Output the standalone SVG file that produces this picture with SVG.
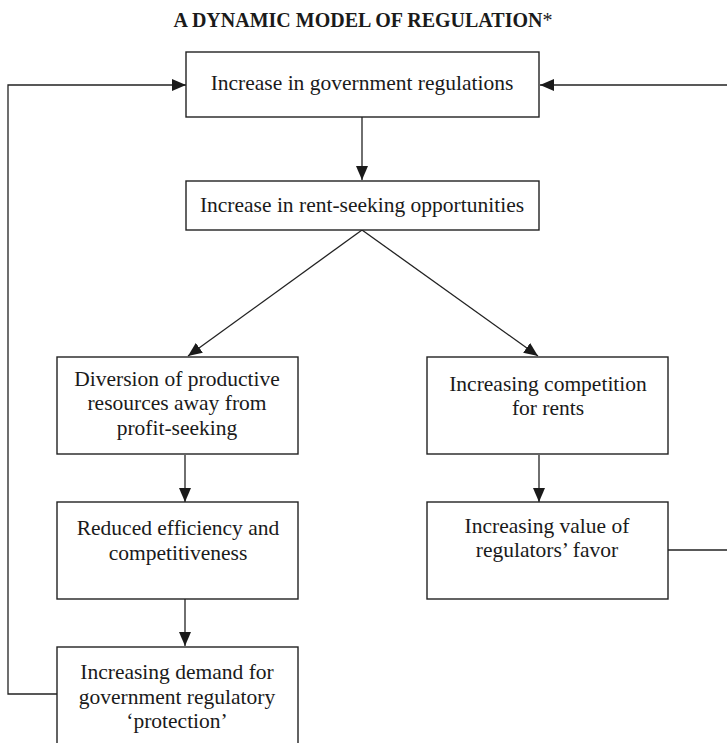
<svg xmlns="http://www.w3.org/2000/svg" width="727" height="743" viewBox="0 0 727 743">
<style>
.box{fill:#fff;stroke:#222;stroke-width:1.4}
.t{font-family:"Liberation Serif","Times New Roman",serif;font-size:21.5px;fill:#1a1a1a;text-anchor:middle}
.title{font-family:"Liberation Serif","Times New Roman",serif;font-size:20px;font-weight:bold;fill:#1a1a1a;text-anchor:middle}
.c{fill:none;stroke:#222;stroke-width:1.3}
</style>
<defs>
<marker id="ah" markerWidth="14" markerHeight="12" refX="14" refY="6" orient="auto" markerUnits="userSpaceOnUse">
<path d="M0,0 L14,6 L0,12 Z" fill="#1a1a1a"/>
</marker>
</defs>
<rect width="727" height="743" fill="#fff"/>
<text class="title" x="363" y="27">A DYNAMIC MODEL OF REGULATION<tspan font-weight="normal">*</tspan></text>
<g id="connectors">
<line class="c" x1="362" y1="117" x2="362" y2="180" marker-end="url(#ah)"/>
<line class="c" x1="362" y1="230" x2="188" y2="356" marker-end="url(#ah)"/>
<line class="c" x1="362" y1="230" x2="538" y2="356" marker-end="url(#ah)"/>
<line class="c" x1="185" y1="455" x2="185" y2="502" marker-end="url(#ah)"/>
<line class="c" x1="539" y1="455" x2="539" y2="502" marker-end="url(#ah)"/>
<line class="c" x1="185" y1="599" x2="185" y2="646" marker-end="url(#ah)"/>
<polyline class="c" points="57,694 8,694 8,85 186,85" marker-end="url(#ah)"/>
<polyline class="c" points="668,550 727,550"/>
<line class="c" x1="727" y1="85" x2="540" y2="85" marker-end="url(#ah)"/>
</g>
<g id="n1"><rect class="box" x="186" y="52" width="353" height="65"/><text class="t" x="362" y="90">Increase in government regulations</text></g>
<g id="n2"><rect class="box" x="186" y="181" width="353" height="49"/><text class="t" x="362" y="212">Increase in rent-seeking opportunities</text></g>
<g id="n3"><rect class="box" x="57" y="357" width="241" height="97"/><text class="t" x="177" y="386">Diversion of productive</text><text class="t" x="177" y="410">resources away from</text><text class="t" x="177" y="435">profit-seeking</text></g>
<g id="n4"><rect class="box" x="427" y="357" width="241" height="97"/><text class="t" x="548" y="391">Increasing competition</text><text class="t" x="548" y="415">for rents</text></g>
<g id="n5"><rect class="box" x="57" y="502" width="241" height="97"/><text class="t" x="178" y="535">Reduced efficiency and</text><text class="t" x="178" y="560">competitiveness</text></g>
<g id="n6"><rect class="box" x="427" y="502" width="241" height="97"/><text class="t" x="547" y="533">Increasing value of</text><text class="t" x="547" y="557">regulators’ favor</text></g>
<g id="n7"><rect class="box" x="57" y="647" width="241" height="110"/><text class="t" x="177" y="679">Increasing demand for</text><text class="t" x="177" y="704">government regulatory</text><text class="t" x="177" y="728">‘protection’</text></g>
</svg>
